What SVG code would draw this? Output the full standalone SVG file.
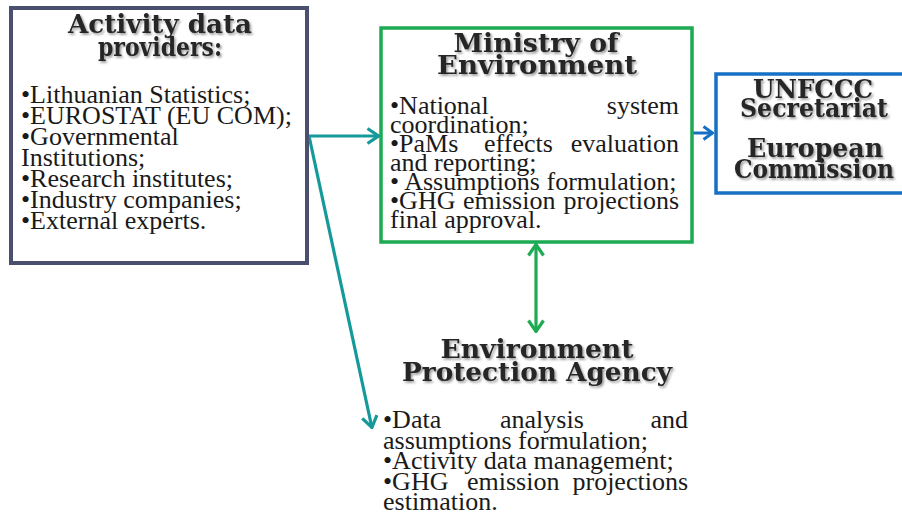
<svg xmlns="http://www.w3.org/2000/svg" width="902" height="517" viewBox="0 0 902 517">
  <style>
    .head { font-family: "DejaVu Serif", "Liberation Serif", serif; font-weight: bold; font-size: 26px; fill: #262626; text-anchor: middle; filter: url(#soft-shadow); }
    .body { font-family: "Liberation Serif", "Times New Roman", serif; font-size: 26px; fill: #1a1a1a; }
    .end { text-anchor: end; }
    .box { fill: #ffffff; }
  </style>
  <defs>
    <filter id="soft-shadow" x="-10%" y="-30%" width="120%" height="160%">
      <feDropShadow dx="1.6" dy="1.8" stdDeviation="1.1" flood-color="#000000" flood-opacity="0.4"/>
    </filter>
    <marker id="tip-teal" viewBox="0 0 14 18" refX="13" refY="9" markerWidth="14" markerHeight="18" markerUnits="userSpaceOnUse" orient="auto-start-reverse">
      <path d="M1.5,1.5 L12.5,9 L1.5,16.5" fill="none" stroke="#15999b" stroke-width="3.2" stroke-linejoin="miter"/>
    </marker>
    <marker id="tip-blue" viewBox="0 0 12 16" refX="11" refY="8" markerWidth="12" markerHeight="16" markerUnits="userSpaceOnUse" orient="auto-start-reverse">
      <path d="M1.5,1.5 L10.5,8 L1.5,14.5" fill="none" stroke="#1670c4" stroke-width="3" stroke-linejoin="miter"/>
    </marker>
    <marker id="tip-green" viewBox="0 0 14 18" refX="13" refY="9" markerWidth="14" markerHeight="18" markerUnits="userSpaceOnUse" orient="auto-start-reverse">
      <path d="M1.5,1.5 L12.5,9 L1.5,16.5" fill="none" stroke="#1daa52" stroke-width="3.2" stroke-linejoin="miter"/>
    </marker>
  </defs>

  <rect width="902" height="517" fill="#ffffff"/>

  <!-- Connectors -->
  <g id="connectors" fill="none">
    <line x1="309" y1="136" x2="379" y2="136" stroke="#15999b" stroke-width="3.2" marker-end="url(#tip-teal)"/>
    <line x1="309" y1="136" x2="372" y2="428" stroke="#15999b" stroke-width="3.2" marker-end="url(#tip-teal)"/>
    <line x1="693" y1="133" x2="713" y2="133" stroke="#1670c4" stroke-width="3" marker-end="url(#tip-blue)"/>
    <line x1="536" y1="244" x2="536" y2="332" stroke="#1daa52" stroke-width="3.2" marker-start="url(#tip-green)" marker-end="url(#tip-green)"/>
  </g>

  <!-- Activity data providers -->
  <g id="providers">
    <rect class="box" x="11" y="8" width="296" height="255" stroke="#4a4f6e" stroke-width="4"/>
    <text class="head" x="160" y="33" textLength="184" lengthAdjust="spacingAndGlyphs">Activity data</text>
    <text class="head" x="160" y="56" textLength="124" lengthAdjust="spacingAndGlyphs">providers:</text>
    <text class="body" x="21" y="103">•Lithuanian Statistics;</text>
    <text class="body" x="21" y="124">•EUROSTAT (EU COM);</text>
    <text class="body" x="21" y="145">•Governmental</text>
    <text class="body" x="21" y="166">Institutions;</text>
    <text class="body" x="21" y="187">•Research institutes;</text>
    <text class="body" x="21" y="208">•Industry companies;</text>
    <text class="body" x="21" y="229">•External experts.</text>
  </g>

  <!-- Ministry of Environment -->
  <g id="ministry">
    <rect class="box" x="381" y="28" width="311" height="214" stroke="#1daa52" stroke-width="3.5"/>
    <text class="head" x="536" y="52" textLength="165" lengthAdjust="spacingAndGlyphs">Ministry of</text>
    <text class="head" x="537" y="74" textLength="200" lengthAdjust="spacingAndGlyphs">Environment</text>
    <text class="body" x="390" y="114">•National</text>
    <text class="body end" x="679" y="114">system</text>
    <text class="body" x="390" y="133">coordination;</text>
    <text class="body" x="390" y="152">•PaMs</text>
    <text class="body" x="484" y="152">effects</text>
    <text class="body end" x="679" y="152">evaluation</text>
    <text class="body" x="390" y="171">and reporting;</text>
    <text class="body" x="390" y="190">• Assumptions formulation;</text>
    <text class="body" x="390" y="209">•GHG</text>
    <text class="body" x="463" y="209">emission</text>
    <text class="body end" x="679" y="209">projections</text>
    <text class="body" x="390" y="228">final approval.</text>
  </g>

  <!-- UNFCCC Secretariat / European Commission -->
  <g id="unfccc">
    <rect class="box" x="716" y="74" width="200" height="119" stroke="#1670c4" stroke-width="3.5"/>
    <text class="head" x="813" y="98" textLength="120" lengthAdjust="spacingAndGlyphs">UNFCCC</text>
    <text class="head" x="814" y="117" textLength="148" lengthAdjust="spacingAndGlyphs">Secretariat</text>
    <text class="head" x="815" y="157" textLength="136" lengthAdjust="spacingAndGlyphs">European</text>
    <text class="head" x="814" y="178" textLength="160" lengthAdjust="spacingAndGlyphs">Commission</text>
  </g>

  <!-- Environment Protection Agency -->
  <g id="agency">
    <text class="head" x="537" y="358" textLength="193" lengthAdjust="spacingAndGlyphs">Environment</text>
    <text class="head" x="537" y="381" textLength="270" lengthAdjust="spacingAndGlyphs">Protection Agency</text>
    <text class="body" x="383" y="428">•Data</text>
    <text class="body" x="500" y="428">analysis</text>
    <text class="body end" x="688" y="428">and</text>
    <text class="body" x="383" y="448.5">assumptions formulation;</text>
    <text class="body" x="383" y="469">•Activity data management;</text>
    <text class="body" x="383" y="489.5">•GHG</text>
    <text class="body" x="467" y="489.5">emission</text>
    <text class="body end" x="688" y="489.5">projections</text>
    <text class="body" x="383" y="510">estimation.</text>
  </g>
</svg>
